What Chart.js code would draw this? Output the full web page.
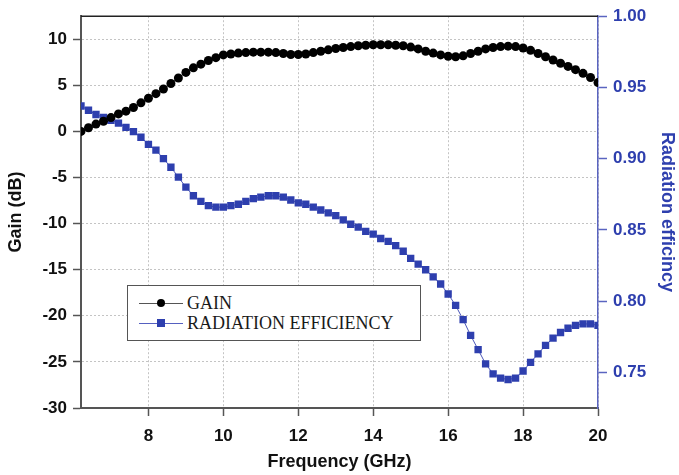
<!DOCTYPE html>
<html>
<head>
<meta charset="utf-8">
<script src="https://cdn.jsdelivr.net/npm/chart.js@4.4.1/dist/chart.umd.min.js"></script>
<style>
  html, body { margin: 0; padding: 0; background: #fff; }
  #wrap { position: relative; width: 679px; height: 475px; }
  #legend {
    position: absolute; left: 127px; top: 285px; width: 294px; height: 56px;
    box-sizing: border-box; border: 1.5px solid #555; background: #fff;
    font-family: "Liberation Serif", "Times New Roman", serif; font-size: 18px; color: #1a1a1a;
  }
  .row { position: absolute; left: 0; height: 20px; line-height: 20px; width: 100%; }
  .sym { position: absolute; left: 11px; top: 10px; width: 44px; height: 1px; }
  .mk { position: absolute; left: 18px; top: -4px; width: 8px; height: 8px; }
  .lbl { position: absolute; left: 59px; top: 0; white-space: nowrap; }
</style>
</head>
<body>
<div id="wrap">
  <canvas id="chart" width="679" height="475"></canvas>
  <div id="legend">
    <div class="row" style="top:7px">
      <div class="sym" style="background:#555"><div class="mk" style="background:#000;border-radius:50%"></div></div>
      <span class="lbl">GAIN</span>
    </div>
    <div class="row" style="top:27px">
      <div class="sym" style="background:#5560c0"><div class="mk" style="background:#2e3fae"></div></div>
      <span class="lbl">RADIATION EFFICIENCY</span>
    </div>
  </div>
</div>
<script>
// frequency points (GHz), 0.2 GHz apart
const freqGHz = [
  6.2, 6.4, 6.6, 6.8, 7.0, 7.2, 7.4, 7.6, 7.8, 8.0,
  8.2, 8.4, 8.6, 8.8, 9.0, 9.2, 9.4, 9.6, 9.8, 10.0,
  10.2, 10.4, 10.6, 10.8, 11.0, 11.2, 11.4, 11.6, 11.8, 12.0,
  12.2, 12.4, 12.6, 12.8, 13.0, 13.2, 13.4, 13.6, 13.8, 14.0,
  14.2, 14.4, 14.6, 14.8, 15.0, 15.2, 15.4, 15.6, 15.8, 16.0,
  16.2, 16.4, 16.6, 16.8, 17.0, 17.2, 17.4, 17.6, 17.8, 18.0,
  18.2, 18.4, 18.6, 18.8, 19.0, 19.2, 19.4, 19.6, 19.8, 20.0
];

const gainDb = [
  0.0, 0.4, 0.8, 1.1, 1.5, 1.9, 2.2, 2.6, 3.1, 3.6,
  4.1, 4.6, 5.2, 5.8, 6.4, 6.9, 7.3, 7.7, 8.0, 8.3,
  8.4, 8.5, 8.55, 8.6, 8.6, 8.6, 8.55, 8.45, 8.35, 8.35,
  8.4, 8.55, 8.7, 8.85, 9.0, 9.1, 9.2, 9.3, 9.35, 9.4,
  9.4, 9.4, 9.35, 9.3, 9.15, 8.95, 8.7, 8.5, 8.3, 8.15,
  8.1, 8.2, 8.45, 8.7, 8.95, 9.1, 9.2, 9.25, 9.2, 9.05,
  8.8, 8.45, 8.1, 7.75, 7.4, 7.05, 6.7, 6.3, 5.85, 5.3
];

const radEfficiency = [
  0.937, 0.934, 0.931, 0.929, 0.927, 0.925, 0.922, 0.919, 0.915, 0.910,
  0.906, 0.900, 0.894, 0.887, 0.880, 0.874, 0.870, 0.867, 0.866, 0.866,
  0.867, 0.868, 0.870, 0.872, 0.873, 0.874, 0.874, 0.873, 0.871, 0.869,
  0.868, 0.866, 0.864, 0.862, 0.860, 0.857, 0.854, 0.852, 0.849, 0.847,
  0.844, 0.842, 0.839, 0.835, 0.830, 0.826, 0.822, 0.817, 0.812, 0.805,
  0.797, 0.787, 0.776, 0.766, 0.756, 0.749, 0.746, 0.745, 0.746, 0.751,
  0.757, 0.763, 0.769, 0.774, 0.778, 0.781, 0.783, 0.784, 0.784, 0.783
];

const freqTicks = [8, 10, 12, 14, 16, 18, 20];
const gainTicks = [-30, -25, -20, -15, -10, -5, 0, 5, 10];
const effTicks = [0.75, 0.80, 0.85, 0.90, 0.95, 1.00];

const BLUE = '#2e3fae';
const AXIS_FONT = { family: "'Liberation Sans', Arial, sans-serif", size: 17, weight: 'bold' };
const TITLE_FONT = { family: "'Liberation Sans', Arial, sans-serif", size: 18, weight: 'bold' };

// thin black frame line along the top of the plot
const topFrame = {
  id: 'topFrame',
  afterDatasetsDraw(chart) {
    const { ctx, chartArea: a } = chart;
    ctx.save();
    ctx.strokeStyle = '#222';
    ctx.lineWidth = 1.5;
    ctx.beginPath();
    ctx.moveTo(a.left, a.top);
    ctx.lineTo(a.right, a.top);
    ctx.stroke();
    ctx.restore();
  }
};

new Chart(document.getElementById('chart'), {
  type: 'line',
  data: {
    datasets: [
      {
        label: 'GAIN',
        data: freqGHz.map((f, i) => ({ x: f, y: gainDb[i] })),
        yAxisID: 'y',
        borderColor: '#333',
        borderWidth: 1,
        pointStyle: 'circle',
        pointRadius: 4.5,
        pointBackgroundColor: '#000',
        pointBorderColor: '#000',
        pointBorderWidth: 0,
        tension: 0
      },
      {
        label: 'RADIATION EFFICIENCY',
        data: freqGHz.map((f, i) => ({ x: f, y: radEfficiency[i] })),
        yAxisID: 'y2',
        borderColor: '#4b56b8',
        borderWidth: 1,
        pointStyle: 'rect',
        pointRadius: 5.2,
        pointBackgroundColor: BLUE,
        pointBorderColor: BLUE,
        pointBorderWidth: 0,
        tension: 0
      }
    ]
  },
  plugins: [topFrame],
  options: {
    responsive: false,
    animation: false,
    layout: { padding: { top: 15, left: 0, right: 0, bottom: 0 } },
    plugins: { legend: { display: false }, tooltip: { enabled: false } },
    scales: {
      x: {
        type: 'linear',
        min: 6.2,
        max: 20,
        afterBuildTicks: s => { s.ticks = freqTicks.map(v => ({ value: v })); },
        afterFit: s => { s.height = 67; },
        ticks: { color: '#111', font: AXIS_FONT, padding: 10, maxRotation: 0 },
        grid: { color: '#c4c4c4', lineWidth: 1, tickLength: 8, tickColor: '#555', tickWidth: 1.5 },
        border: { color: '#555', width: 2, dash: [2, 2] },
        title: { display: true, text: 'Frequency (GHz)', color: '#111', font: TITLE_FONT, padding: { bottom: 2, top: 0 } }
      },
      y: {
        position: 'left',
        min: -30,
        max: 12.5,
        afterBuildTicks: s => { s.ticks = gainTicks.map(v => ({ value: v })); },
        afterFit: s => { s.width = 81; },
        ticks: { color: '#111', font: AXIS_FONT, padding: 6 },
        grid: { color: '#c4c4c4', lineWidth: 1, tickLength: 8, tickColor: '#555', tickWidth: 1.5 },
        border: { color: '#555', width: 2, dash: [2, 2] },
        title: { display: true, text: 'Gain (dB)', color: '#111', font: TITLE_FONT, padding: { top: 5, bottom: 0 } }
      },
      y2: {
        position: 'right',
        min: 0.725,
        max: 1.0,
        afterBuildTicks: s => { s.ticks = effTicks.map(v => ({ value: v })); },
        afterFit: s => { s.width = 81; },
        ticks: { color: BLUE, font: AXIS_FONT, padding: 6, callback: v => Number(v).toFixed(2) },
        grid: { drawOnChartArea: false, tickLength: 9, tickColor: '#5a64c0', tickWidth: 1.5 },
        border: { color: '#5a64c0', width: 1.5 },
        title: { display: true, text: 'Radiation efficincy', color: BLUE, font: TITLE_FONT, padding: { top: 1, bottom: 0 } }
      }
    }
  }
});
</script>
</body>
</html>
